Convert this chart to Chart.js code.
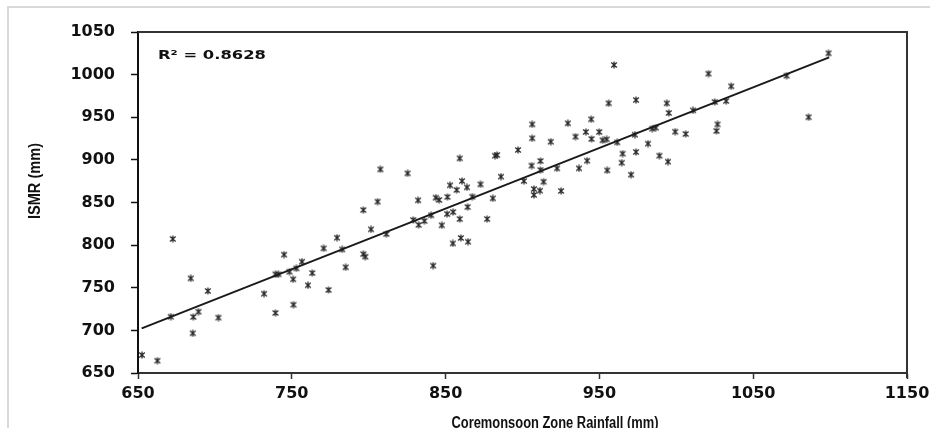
<!DOCTYPE html>
<html>
<head>
<meta charset="utf-8">
<script src="https://cdn.jsdelivr.net/npm/chart.js@4.4.1/dist/chart.umd.min.js"></script>
<style>
html,body{margin:0;padding:0;background:#fff;}
#wrap{width:930px;height:428px;position:relative;}
</style>
</head>
<body>
<div id="wrap"><canvas id="c" width="930" height="428"></canvas></div>
<script>
// ---- data ----
const rainfall = [672.6,745,756.6,684.3,763.3,739.4,741.3,748.5,753,750.9,760.5,695.4,732,689.3,671.3,686,702.3,739.4,751.1,685.6,652.6,662.6,
  807.6,825.3,852.9,860.7,857.2,863.9,872.7,886,805.8,796.5,832.1,843.6,845.8,851.2,867.4,880.7,864.3,851,854.9,829,836.2,832.5,840.6,847.5,859.2,877,
  801.5,811.5,779.4,770.7,782.8,796.5,797.8,785,773.9,854.7,859.9,864.6,841.9,
  906.3,929.5,906.3,918.4,934.5,941.2,949.9,944.9,952.1,954.7,961.6,973.1,981.6,965.1,973.8,964.5,970.6,955.1,942,936.7,
  859.2,882.2,883.5,897.1,905.9,911.7,911.7,922.5,900.9,913.7,907.4,911.3,907.4,925.1,
  959.5,1020.9,1035.7,1025,1032.4,956,973.8,993.8,995.1,1010.9,944.7,984.4,986.6,999.3,1006.1,1026.8,1026.1,989,994.6,1099,1071.7,1086];
const ismr = [807.2,788.8,780.6,761,767.3,765.8,765.8,768.8,772.8,759.9,752.9,746.2,743,721.9,716,715.7,714.9,720.4,730.1,696.6,671.1,664.4,
  888.9,884.2,870.2,875.2,864.7,867.8,871.3,880.3,851,841.2,852.6,855.7,853,856.5,856.8,854.9,844.7,836.5,838.8,829.5,828.3,823.7,835,823.3,830.6,830.6,
  818.5,813,808.7,796.2,795,789.5,786.4,774,747.4,802,808.4,804,775.9,
  941.7,942.9,925.3,921.3,927.2,932.7,932.7,924.5,923,924.1,920.6,929.5,919,907.3,909.2,896.7,882.6,887.7,899,890.1,
  901.8,904.9,905.7,911.6,893.2,898.7,888.1,890.1,875.2,874.4,865.8,863.9,858.8,863.5,
  1011.3,1001.1,986.3,967.9,969,966.4,970.2,966.4,955,958.1,947.6,936.6,937.7,933,930.4,941.7,933.9,904.9,897.9,1025,998.7,950];
const trendX = [652.4, 1099.4];
const trendY = [702.4, 1020.3];
const xTicks = [650, 750, 850, 950, 1050, 1150];
const yTicks = [650, 700, 750, 800, 850, 900, 950, 1000, 1050];
const rSquaredLabel = 'R² = 0.8628';
const xTitle = 'Coremonsoon Zone Rainfall (mm)';
const yTitle = 'ISMR (mm)';

// ---- marker: asterisk-like star (x + vertical bar) ----
function makeMarker() {
  const s = 8, cv = document.createElement('canvas');
  cv.width = s; cv.height = s;
  const g = cv.getContext('2d');
  g.strokeStyle = '#262626'; g.lineWidth = 1.25;
  g.beginPath();
  g.moveTo(1.2, 1.5); g.lineTo(s - 1.2, s - 1.5);
  g.moveTo(s - 1.2, 1.5); g.lineTo(1.2, s - 1.5);
  g.moveTo(s / 2, 0.5); g.lineTo(s / 2, s - 0.5);
  g.stroke();
  return cv;
}
const marker = makeMarker();

const scatterPts = rainfall.map((x, i) => ({ x: x, y: ismr[i] }));
const trendPts = trendX.map((x, i) => ({ x: x, y: trendY[i] }));

function fitText(ctx, text, x, y, targetW, align) {
  const w = ctx.measureText(text).width;
  const k = targetW / w;
  ctx.save();
  ctx.translate(x, y);
  ctx.scale(k, 1);
  ctx.textAlign = align;
  ctx.fillText(text, 0, 0);
  ctx.restore();
}

const decor = {
  id: 'decor',
  beforeDraw(chart) {
    const ctx = chart.ctx;
    ctx.save();
    ctx.fillStyle = '#fff';
    ctx.fillRect(0, 0, chart.width, chart.height);
    ctx.strokeStyle = '#d9d9d9';
    ctx.lineWidth = 2;
    ctx.beginPath();
    ctx.moveTo(8, 428); ctx.lineTo(8, 7); ctx.lineTo(930, 7);
    ctx.stroke();
    ctx.restore();
  },
  afterDraw(chart) {
    const ctx = chart.ctx, a = chart.chartArea;
    ctx.save();
    // plot box (top & right sides)
    ctx.strokeStyle = '#333';
    ctx.lineWidth = 2;
    ctx.beginPath();
    ctx.moveTo(a.left, a.top); ctx.lineTo(a.right, a.top); ctx.lineTo(a.right, a.bottom + 5);
    ctx.stroke();
    // R² label
    ctx.fillStyle = '#111';
    ctx.font = 'bold 13px "DejaVu Sans"';
    ctx.textBaseline = 'middle';
    fitText(ctx, rSquaredLabel, a.left + 20, 56, 108, 'left');
    // axis titles
    ctx.font = 'bold 16px "Liberation Sans"';
    ctx.textBaseline = 'top';
    fitText(ctx, xTitle, 555, 416, 207, 'center');
    ctx.save();
    ctx.translate(28, 181);
    ctx.rotate(-Math.PI / 2);
    ctx.textBaseline = 'top';
    fitText(ctx, yTitle, 0, 0, 76, 'center');
    ctx.restore();
    ctx.restore();
  }
};

new Chart(document.getElementById('c'), {
  type: 'scatter',
  data: {
    datasets: [
      {
        label: 'ISMR',
        data: scatterPts,
        pointStyle: marker,
        pointRadius: 4,
        pointHoverRadius: 4,
        order: 2
      },
      {
        type: 'line',
        label: 'Trend',
        data: trendPts,
        borderColor: '#1a1a1a',
        borderWidth: 2,
        pointRadius: 0,
        fill: false,
        order: 1
      }
    ]
  },
  plugins: [decor],
  options: {
    responsive: false,
    animation: false,
    devicePixelRatio: 1,
    layout: { padding: { left: 0, right: 23, top: 32, bottom: 0 } },
    plugins: { legend: { display: false }, tooltip: { enabled: false } },
    scales: {
      x: {
        type: 'linear',
        min: xTicks[0],
        max: xTicks[xTicks.length - 1],
        afterBuildTicks: (s) => { s.ticks = xTicks.map(v => ({ value: v })); },
        afterFit: (s) => { s.height = 55; s.paddingLeft = 0; s.paddingRight = 0; },
        grid: { display: true, drawOnChartArea: false, drawTicks: true, tickLength: 6, color: '#333', tickWidth: 1.5 },
        border: { display: true, color: '#333', width: 2 },
        ticks: { color: '#111', padding: 5, font: { family: '"DejaVu Sans"', weight: 'bold', size: 16 }, maxRotation: 0,
                 callback: (v) => String(v) },
        title: { display: false }
      },
      y: {
        type: 'linear',
        min: yTicks[0],
        max: yTicks[yTicks.length - 1],
        afterBuildTicks: (s) => { s.ticks = yTicks.map(v => ({ value: v })); },
        afterFit: (s) => { s.width = 138; s.paddingTop = 0; s.paddingBottom = 0; },
        grid: { display: true, drawOnChartArea: false, drawTicks: true, tickLength: 7, color: '#111', tickWidth: 1.5 },
        border: { display: true, color: '#111', width: 2 },
        ticks: { color: '#111', padding: 16, font: { family: '"DejaVu Sans"', weight: 'bold', size: 16 },
                 callback: (v) => String(v) },
        title: { display: false }
      }
    }
  }
});
</script>
</body>
</html>
